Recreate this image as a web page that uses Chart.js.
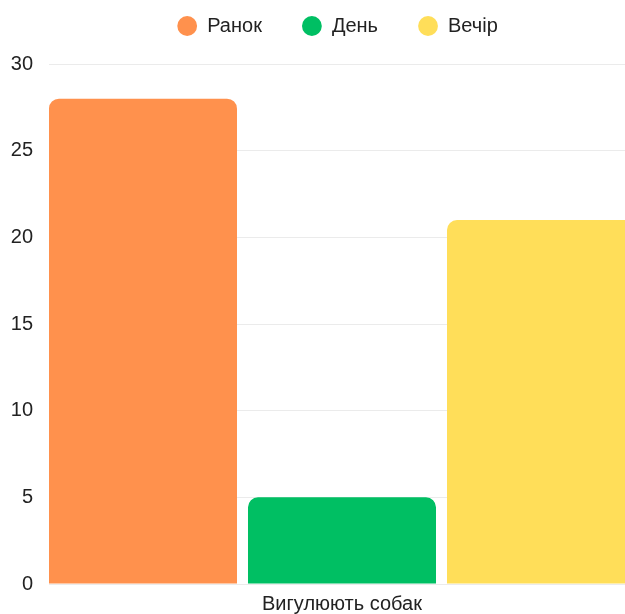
<!DOCTYPE html>
<html lang="uk">
<head>
<meta charset="utf-8">
<title>Вигулюють собак</title>
<script src="https://cdn.jsdelivr.net/npm/chart.js@4/dist/chart.umd.min.js"></script>
<style>
    html, body {
        margin: 0;
        padding: 0;
        background: #fff;
        overflow: hidden;
    }
    .chart-box {
        width: 664px;
        height: 614px;
    }
</style>
</head>
<body>
<div class="chart-box">
    <canvas id="graficoPasseio"></canvas>
</div>
<script>
const categorias = ['Вигулюють собак']
const periodos = ['Ранок', 'День', 'Вечір']
const valores = [28, 5, 21]
const cores = ['#FF914D', '#00BF63', '#FFDE59']
const ticksY = [0, 5, 10, 15, 20, 25, 30]

// adds some space between the legend and the bars
const legendMargin = {
    id: 'legendMargin',
    beforeInit(chart) {
        const fitOriginal = chart.legend.fit
        chart.legend.fit = function () {
            fitOriginal.bind(chart.legend)()
            this.height += 18
        }
    }
}

function graficoPasseio() {
    const ctx = document.getElementById('graficoPasseio').getContext('2d')

    const datasets = periodos.map(function (nome, i) {
        return {
            label: nome,
            data: [valores[i]],
            backgroundColor: cores[i],
            borderWidth: 0,
            borderRadius: 10,
            borderSkipped: 'start',
            categoryPercentage: 1.0188,
            barPercentage: 0.9447
        }
    })

    new Chart(ctx, {
        type: 'bar',
        data: {
            labels: categorias,
            datasets: datasets
        },
        plugins: [legendMargin],
        options: {
            responsive: true,
            maintainAspectRatio: false,
            animation: false,
            layout: {
                padding: { top: -24, left: 11 }
            },
            font: { size: 20 },
            color: '#222',
            plugins: {
                legend: {
                    position: 'top',
                    labels: {
                        usePointStyle: true,
                        pointStyle: 'circle',
                        boxHeight: 14,
                        padding: 40,
                        color: '#222',
                        font: { size: 20 }
                    }
                },
                tooltip: { enabled: false }
            },
            scales: {
                x: {
                    grid: { display: false, drawTicks: false },
                    border: { display: false },
                    ticks: {
                        color: '#222',
                        padding: 8,
                        font: { size: 20 }
                    },
                    afterFit: function (scale) {
                        scale.height = 30
                    }
                },
                y: {
                    min: ticksY[0],
                    max: ticksY[ticksY.length - 1],
                    grid: { drawTicks: false, color: 'rgba(0,0,0,0.08)' },
                    border: { display: false },
                    ticks: {
                        stepSize: ticksY[1] - ticksY[0],
                        padding: 16,
                        color: '#222',
                        font: { size: 20 }
                    },
                    afterFit: function (scale) {
                        scale.width = 38
                    }
                },
                margemDireita: {
                    position: 'right',
                    grid: { display: false },
                    border: { display: false },
                    ticks: { display: false },
                    afterFit: function (scale) {
                        scale.width = 29
                    }
                }
            }
        }
    })
}

graficoPasseio()
</script>
</body>
</html>
